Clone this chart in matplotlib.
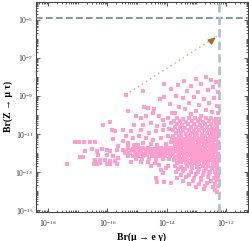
import matplotlib
matplotlib.use('Agg')
import matplotlib.pyplot as plt
import numpy as np
from matplotlib.ticker import FixedLocator, LogLocator, NullFormatter

plt.rcParams['font.family'] = ['Liberation Serif', 'DejaVu Serif']
plt.rcParams['mathtext.fontset'] = 'stix'

# log10 values: x = Br(mu -> e gamma), y = Br(Z -> mu tau)
left_x = [-15.90, -16.14, -15.83, -15.73, -15.80, -17.08, -16.95, -16.78, -16.58, -16.41,
          -15.63, -16.51, -16.17, -16.00, -16.75, -16.34, -15.90, -16.31, -16.00, -15.80,
          -16.92, -16.81, -16.41, -16.24, -16.07, -15.90, -15.76, -16.24, -16.00, -17.36,
          -16.47, -16.34, -15.90, -15.69, -15.63, -15.69]
left_y = [-10.39, -10.54, -10.80, -10.85, -11.27, -11.43, -11.43, -11.43, -11.43, -11.43,
          -11.63, -11.79, -11.79, -11.84, -11.89, -11.89, -11.89, -12.10, -12.10, -12.15,
          -12.20, -12.20, -12.36, -12.36, -12.36, -12.41, -12.41, -12.51, -12.56, -12.56,
          -12.56, -12.56, -12.56, -12.56, -12.25, -11.84]

mid_x = [-15.39, -14.81, -14.10, -14.24, -14.10, -13.86, -13.90, -15.32, -14.78, -14.64,
         -14.44, -15.05, -14.47, -14.88, -14.71, -14.27, -14.14, -13.97, -13.83,
         -15.12, -14.81, -14.54, -14.31, -14.10, -13.86,
         -15.46, -15.22, -14.88, -14.61, -14.37, -14.14, -13.93,
         -15.39, -15.15, -14.95, -14.71, -14.47, -14.20, -13.97, -13.83,
         -15.49, -15.29, -15.32, -15.12, -14.98, -14.81, -14.54, -14.31, -14.03, -13.86,
         -15.29, -15.12, -14.95, -14.81, -14.64, -14.47, -14.34, -14.20, -14.03, -13.90,
         -15.49, -15.36, -15.19, -15.02, -14.88, -14.71, -14.54, -14.41, -14.27, -14.10, -13.97, -13.83,
         -15.42, -15.25, -15.08, -14.92, -14.78, -14.61, -14.47, -14.31, -14.17, -14.00, -13.86,
         -15.32, -15.15, -14.98, -14.81, -14.68, -14.51, -14.34, -14.20, -14.07, -13.90,
         -15.05, -14.85, -14.61, -14.37, -14.14, -13.93,
         -15.22, -14.88, -14.64, -14.41, -14.54, -14.27, -13.97, -14.03, -14.20, -14.14,
         -14.37, -14.31, -14.10, -13.86]
mid_y = [-8.94, -8.73, -8.37, -9.15, -9.04, -8.63, -9.40, -9.77, -9.56, -9.61,
         -9.66, -10.08, -9.87, -10.18, -10.08, -10.08, -10.28, -10.18, -9.92,
         -10.54, -10.54, -10.44, -10.60, -10.54, -10.44,
         -10.80, -10.85, -10.80, -10.96, -10.85, -10.80, -10.75,
         -11.11, -11.22, -11.11, -11.22, -11.32, -11.22, -11.11, -11.27,
         -11.37, -11.48, -11.58, -11.58, -11.58, -11.48, -11.53, -11.58, -11.53, -11.43,
         -11.74, -11.70, -11.76, -11.72, -11.74, -11.78, -11.72, -11.74, -11.70, -11.76,
         -11.86, -11.88, -11.84, -11.86, -11.90, -11.84, -11.86, -11.88, -11.84, -11.86, -11.90, -11.86,
         -11.99, -12.01, -11.97, -11.99, -12.03, -11.97, -11.99, -12.01, -11.97, -11.99, -12.01,
         -12.15, -12.13, -12.17, -12.15, -12.11, -12.15, -12.17, -12.13, -12.15, -12.15,
         -12.31, -12.29, -12.33, -12.31, -12.29, -12.31,
         -12.46, -12.46, -12.46, -12.51, -12.67, -12.62, -12.67, -12.77, -12.88, -13.03,
         -13.29, -13.50, -13.50, -13.55]

right_x = [-13.42, -13.02, -12.68, -12.51, -12.34, -13.63, -13.19, -12.85, -12.44, -13.32,
           -12.95, -12.61, -12.27, -13.69, -13.46, -13.08, -12.75, -12.41, -13.25, -12.92,
           -12.58, -12.31, -13.59, -13.39, -13.02, -12.68, -12.47, -13.73, -13.19, -12.85, -12.27,
           # 1e-10 .. 1e-11 band
           -13.66, -13.46, -13.25, -13.05, -12.88, -12.68, -12.51, -12.34,
           -13.76, -13.56, -13.36, -13.15, -12.95, -12.78, -12.58, -12.41, -12.27,
           -13.66, -13.49, -13.29, -13.08, -12.88, -12.71, -12.51, -12.34,
           -13.73, -13.56, -13.39, -13.19, -13.02, -12.81, -12.64, -12.47, -12.31,
           -13.80, -13.63, -13.46, -13.25, -13.08, -12.92, -12.75, -12.58, -12.41, -12.27,
           -13.69, -13.53, -13.36, -13.19, -12.98, -12.81, -12.64, -12.47, -12.34,
           # dense core
           -13.78, -13.60, -13.50, -13.33, -13.20, -13.05, -12.97, -12.80, -12.70, -12.52, -12.40, -12.29,
           -13.70, -13.55, -13.40, -13.30, -13.12, -13.00, -12.86, -12.77, -12.60, -12.45, -12.33,
           -13.80, -13.64, -13.47, -13.37, -13.24, -13.10, -12.93, -12.82, -12.66, -12.55, -12.42, -12.28,
           -13.72, -13.58, -13.44, -13.27, -13.17, -13.03, -12.90, -12.73, -12.62, -12.49, -12.35,
           -13.77, -13.62, -13.50, -13.35, -13.21, -13.07, -12.96, -12.83, -12.69, -12.53, -12.40, -12.27,
           -13.68, -13.55, -13.41, -13.28, -13.14, -13.01, -12.87, -12.76, -12.60, -12.48, -12.33,
           -13.79, -13.61, -13.48, -13.38, -13.23, -13.09, -12.94, -12.80, -12.67, -12.56, -12.43, -12.28,
           -13.71, -13.57, -13.43, -13.30, -13.16, -13.02, -12.89, -12.74, -12.63, -12.47, -12.34,
           -13.74, -13.60, -13.46, -13.33, -13.19, -13.05, -12.92, -12.79, -12.65, -12.51, -12.39, -12.27,
           -13.66, -13.50, -13.36, -13.20, -13.04, -12.90, -12.75, -12.61, -12.45, -12.31,
           -13.73, -13.52, -13.33, -13.14, -12.98, -12.78, -12.62, -12.45, -12.29,
           # tail below 1e-12.7
           -13.63, -13.39, -13.15, -12.92, -12.68, -12.47, -12.31,
           -13.69, -13.46, -13.19, -12.95, -12.75, -12.54, -12.37, -12.27,
           -13.53, -13.25, -13.02, -12.78, -12.58, -12.34,
           -13.66, -13.36, -13.08, -12.85, -12.61, -12.41, -12.27,
           -13.46, -13.12, -12.85, -12.51, -12.31,
           -13.25, -12.92, -12.64, -12.37,
           -13.02, -12.71, -12.44, -12.27,
           -12.75, -12.37,
           -12.31]
right_y = [-8.21, -8.11, -8.01, -8.16, -8.26, -8.42, -8.47, -8.37, -8.52, -8.73,
           -8.78, -8.68, -8.78, -8.99, -9.09, -9.04, -9.15, -9.09, -9.35, -9.46,
           -9.35, -9.51, -9.56, -9.66, -9.77, -9.72, -9.82, -9.87, -9.97, -10.03, -9.92,
           -10.18, -10.21, -10.16, -10.18, -10.22, -10.15, -10.18, -10.20,
           -10.34, -10.31, -10.36, -10.34, -10.30, -10.37, -10.34, -10.32, -10.35,
           -10.49, -10.52, -10.47, -10.49, -10.53, -10.46, -10.49, -10.51,
           -10.65, -10.62, -10.67, -10.65, -10.61, -10.66, -10.64, -10.68, -10.65,
           -10.80, -10.83, -10.78, -10.80, -10.84, -10.79, -10.81, -10.77, -10.80, -10.82,
           -10.96, -10.93, -10.98, -10.96, -10.94, -10.99, -10.96, -10.92, -10.97,
           -11.10, -11.13, -11.08, -11.10, -11.12, -11.07, -11.10, -11.14, -11.09, -11.10, -11.12, -11.08,
           -11.26, -11.23, -11.28, -11.26, -11.24, -11.29, -11.26, -11.22, -11.27, -11.25, -11.28,
           -11.40, -11.43, -11.38, -11.41, -11.44, -11.39, -11.40, -11.42, -11.37, -11.41, -11.43, -11.40,
           -11.57, -11.54, -11.59, -11.57, -11.55, -11.60, -11.57, -11.53, -11.58, -11.56, -11.59,
           -11.73, -11.76, -11.71, -11.73, -11.75, -11.70, -11.74, -11.77, -11.72, -11.73, -11.75, -11.71,
           -11.88, -11.85, -11.90, -11.88, -11.86, -11.91, -11.88, -11.84, -11.89, -11.87, -11.90,
           -12.04, -12.07, -12.02, -12.05, -12.08, -12.03, -12.04, -12.06, -12.01, -12.05, -12.07, -12.04,
           -12.20, -12.17, -12.22, -12.20, -12.18, -12.23, -12.20, -12.16, -12.21, -12.19, -12.22,
           -12.36, -12.39, -12.34, -12.37, -12.40, -12.35, -12.36, -12.38, -12.33, -12.37, -12.39, -12.36,
           -12.52, -12.49, -12.54, -12.52, -12.50, -12.55, -12.52, -12.48, -12.53, -12.51,
           -12.68, -12.71, -12.66, -12.69, -12.72, -12.67, -12.68, -12.70, -12.65,
           -12.82, -12.85, -12.80, -12.83, -12.86, -12.81, -12.84,
           -12.98, -12.95, -13.00, -12.98, -12.96, -13.01, -12.97, -12.99,
           -13.13, -13.16, -13.11, -13.14, -13.12, -13.15,
           -13.29, -13.26, -13.31, -13.29, -13.27, -13.32, -13.28,
           -13.45, -13.48, -13.43, -13.46, -13.44,
           -13.60, -13.63, -13.58, -13.61,
           -13.76, -13.73, -13.78, -13.75,
           -13.91, -13.94,
           -14.07]

# extra points filling the densest part (between the rows above)
core_x = [-13.63, -13.44, -13.26, -13.09, -12.91, -12.72, -12.56, -12.38,
          -13.70, -13.52, -13.34, -13.16, -12.99, -12.81, -12.64, -12.46, -12.30,
          -13.58, -13.40, -13.22, -13.04, -12.86, -12.69, -12.51, -12.33,
          -13.67, -13.48, -13.31, -13.13, -12.95, -12.77, -12.59, -12.42, -12.28,
          -15.15, -14.95, -14.75, -14.55, -14.35, -14.15, -13.95,
          -15.30, -15.05, -14.85, -14.65, -14.45, -14.25, -14.05]
core_y = [-11.33, -11.35, -11.32, -11.34, -11.31, -11.35, -11.33, -11.32,
          -11.65, -11.66, -11.63, -11.66, -11.64, -11.67, -11.65, -11.63, -11.66,
          -11.96, -11.98, -11.95, -11.97, -11.99, -11.96, -11.98, -11.95,
          -12.28, -12.29, -12.26, -12.30, -12.27, -12.29, -12.28, -12.26, -12.29,
          -11.80, -11.81, -11.79, -11.80, -11.82, -11.79, -11.80,
          -12.07, -12.08, -12.06, -12.07, -12.09, -12.06, -12.07]

z_mutau_bound = 1.2e-5   # LEP
mueg_bound = 5.7e-13     # MEG
arrow_tail = (-15.39, -8.94)
arrow_tip = (-12.27, -5.83)

x_tick_exps = [-18, -16, -14, -12]
y_tick_exps = [-15, -13, -11, -9, -7, -5]

pink = '#ff9fcf'

fig = plt.figure(figsize=(2.49, 2.41), dpi=100)
ax = fig.add_axes([0.145, 0.12, 0.849, 0.873])
ax.set_xscale('log')
ax.set_yscale('log')

for xs, ys in [(left_x, left_y), (mid_x, mid_y), (right_x, right_y), (core_x, core_y)]:
    ax.scatter(10.0 ** np.array(xs), 10.0 ** np.array(ys), s=7, marker='s',
               color=pink, linewidths=0, zorder=2)

ax.axhline(z_mutau_bound, color='#6d8787', lw=1.2, dashes=(4, 2), zorder=3)
ax.axvline(mueg_bound, color='#b5c2c2', lw=2, dashes=(3, 1.5), zorder=3)

# dotted arrow
tail = (10.0 ** arrow_tail[0], 10.0 ** arrow_tail[1])
tip = (10.0 ** arrow_tip[0], 10.0 ** arrow_tip[1])
ax.plot([tail[0], tip[0]], [tail[1], tip[1]], color='#cdb08a', lw=1, ls=(0, (1, 2.5)), zorder=4)
ax.annotate('', xy=tip, xytext=(10.0 ** (arrow_tip[0] - 0.2), 10.0 ** (arrow_tip[1] - 0.25)),
            arrowprops=dict(arrowstyle='-|>,head_length=0.45,head_width=0.2',
                            color='#a7672a', lw=0.8), zorder=5)

ax.set_xlim(10 ** -18.41, 10 ** -11.27)
ax.set_ylim(10 ** -15.1, 10 ** -4.05)

ax.xaxis.set_major_locator(FixedLocator(10.0 ** np.array(x_tick_exps)))
ax.yaxis.set_major_locator(FixedLocator(10.0 ** np.array(y_tick_exps)))
for axis in [ax.xaxis, ax.yaxis]:
    axis.set_minor_locator(LogLocator(base=10, subs=np.arange(1, 10), numticks=60))
    axis.set_minor_formatter(NullFormatter())

ax.tick_params(which='both', direction='in', top=True, right=True,
               width=0.6, color='#444444', labelsize=5.5, labelcolor='#333333')
ax.tick_params(which='major', length=3)
ax.tick_params(which='minor', length=1.5)
ax.tick_params(axis='x', pad=4)
ax.tick_params(axis='y', pad=2)
for sp in ax.spines.values():
    sp.set_color('#444444')
    sp.set_linewidth(0.8)

ax.set_xlabel('Br(μ → e γ)', fontweight='bold', fontsize=7, labelpad=3)
ax.set_ylabel('Br(Z → μ τ)', fontweight='bold', fontsize=7, labelpad=2)

fig.savefig('out.png', dpi=100)
